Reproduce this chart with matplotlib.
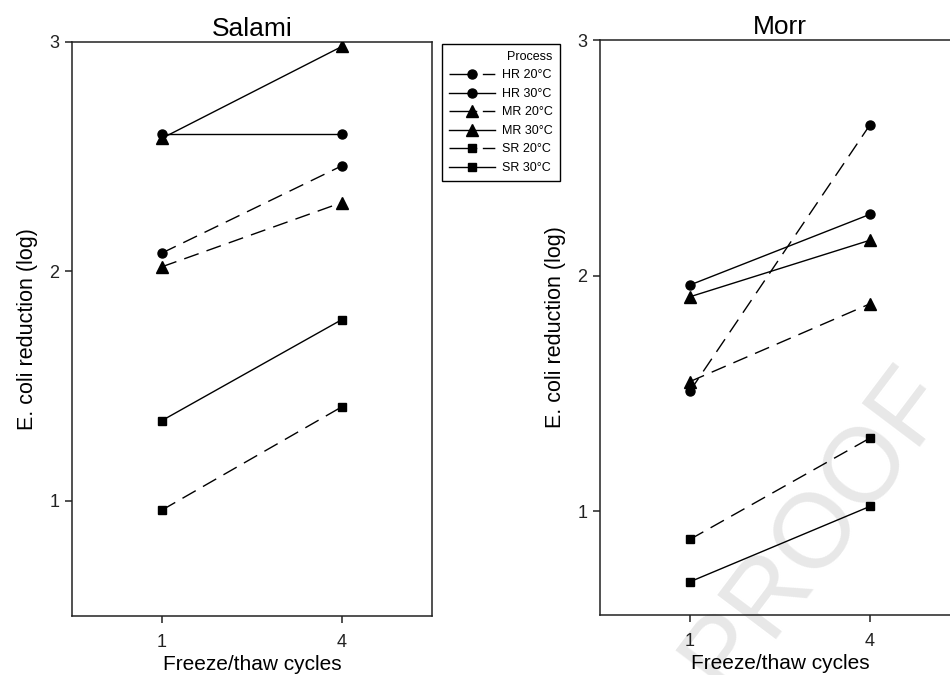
import matplotlib
matplotlib.use('Agg')
import matplotlib.pyplot as plt
from matplotlib.lines import Line2D

plt.rcParams['font.family'] = ['Liberation Sans', 'DejaVu Sans']

# x categories (freeze/thaw cycles)
cycles = ["1", "4"]

# legend labels / process names
processes = ["HR 20°C", "HR 30°C", "MR 20°C", "MR 30°C", "SR 20°C", "SR 30°C"]

# E. coli reduction (log)
salami_hr20 = [2.08, 2.46]
salami_hr30 = [2.60, 2.60]
salami_mr20 = [2.02, 2.30]
salami_mr30 = [2.58, 2.98]
salami_sr20 = [0.96, 1.41]
salami_sr30 = [1.35, 1.79]

morr_hr20 = [1.51, 2.64]
morr_hr30 = [1.96, 2.26]
morr_mr20 = [1.55, 1.88]
morr_mr30 = [1.91, 2.15]
morr_sr20 = [0.88, 1.31]
morr_sr30 = [0.70, 1.02]

dashed = (0, (11, 6))
leg_dashed = (0, (20, 4, 9, 4))
styles = [("o", True, 6.5), ("o", False, 6.5),
          ("^", True, 9), ("^", False, 9),
          ("s", True, 6), ("s", False, 6)]


def draw(ax, series, title, ylo):
    x = range(len(cycles))
    for vals, lab, (mk, dsh, ms) in zip(series, processes, styles):
        ax.plot(x, vals, color="black", linestyle=dashed if dsh else "-", marker=mk,
                markersize=ms, linewidth=1.0, label=lab, zorder=3)
    ax.set_xlim(-0.5, 1.5)
    ax.set_ylim(ylo, 3)
    ax.set_xticks(list(x))
    ax.set_xticklabels(cycles)
    ax.set_yticks([1, 2, 3])
    ax.tick_params(direction="out", length=5, width=1.1, labelsize=13, colors="#222222")
    ax.tick_params(axis="x", pad=8)
    ax.tick_params(axis="y", pad=4)
    for s in ax.spines.values():
        s.set_linewidth(1.1)
        s.set_color("#222222")
    ax.set_title(title, fontsize=19, pad=4)
    ax.set_xlabel("Freeze/thaw cycles", fontsize=15, labelpad=3)
    ax.set_ylabel("E. coli reduction (log)", fontsize=15.5, labelpad=8)


fig = plt.figure(figsize=(9.5, 6.75), dpi=100)
ax1 = fig.add_axes([0.0758, 0.088, 0.3789, 0.850])
ax2 = fig.add_axes([0.6316, 0.0893, 0.3789, 0.8514])

draw(ax1, [salami_hr20, salami_hr30, salami_mr20, salami_mr30, salami_sr20, salami_sr30],
     "Salami", 0.5)
draw(ax2, [morr_hr20, morr_hr30, morr_mr20, morr_mr30, morr_sr20, morr_sr30],
     "Morr", 0.56)

# watermark
ax2.text(0.60, 0.15, "PROOF", transform=ax2.transAxes, fontsize=76, color="#e8e8e8",
         rotation=53, ha="center", va="center", zorder=0)

# proxy handles so the dashed entries read like the original key
handles = [Line2D([], [], color="black", marker=mk, markersize=ms, linewidth=1.0,
                  linestyle=leg_dashed if dsh else "-")
           for mk, dsh, ms in styles]
leg = fig.legend(handles, processes, loc="upper left", bbox_to_anchor=(442 / 950, 1 - 44 / 675),
                 title="Process", fontsize=9, title_fontsize=9, fancybox=False,
                 framealpha=1, edgecolor="black", handlelength=3.7, labelspacing=0.52,
                 borderaxespad=0, alignment="right", handletextpad=0.55, borderpad=0.55)
leg.get_frame().set_linewidth(1.0)

fig.savefig("out.png", dpi=100)
